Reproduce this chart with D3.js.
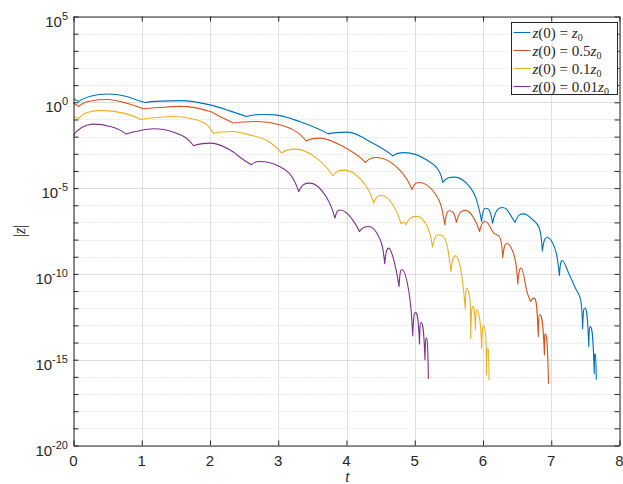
<!DOCTYPE html>
<html>
<head>
<meta charset="utf-8">
<script src="https://cdn.jsdelivr.net/npm/d3@7"></script>
<style>
body { margin: 0; background: #fff; }
svg { display: block; }
</style>
</head>
<body>
<svg id="svg"></svg>
<script>
// values, |z| given as log10 exponents

var blueT = [0, 0.08, 0.25, 0.49, 0.78, 0.92, 1.05, 1.27, 1.56, 2.0, 2.29, 2.53, 2.78, 2.95, 3.31, 3.73, 4.02, 4.34, 4.68, 4.85, 5.17, 5.36, 5.41, 5.58, 5.80, 5.92, 5.98, 6.04, 6.14, 6.29, 6.34, 6.43, 6.47, 6.60, 6.73, 6.82, 6.87, 6.94, 7.02, 7.12, 7.16, 7.26, 7.36, 7.43, 7.46, 7.49, 7.55, 7.57, 7.63, 7.64, 7.66];
var blueLog = [0.19, 0.05, 0.35, 0.48, 0.34, 0.15, -0.01, 0.07, 0.1, -0.15, -0.5, -0.83, -0.71, -0.73, -1.12, -1.84, -1.74, -2.28, -3.12, -2.93, -3.35, -4.03, -4.67, -4.36, -4.9, -5.87, -6.95, -6.17, -7.04, -6.13, -6.22, -6.75, -7.0, -6.5, -6.85, -7.28, -8.67, -7.88, -8.2, -10.09, -9.22, -10.0, -10.88, -11.5, -13.2, -11.99, -14.23, -13.07, -15.82, -14.66, -16.17];

var redT = [0, 0.08, 0.25, 0.49, 0.78, 1.02, 1.27, 1.56, 2.0, 2.19, 2.34, 2.68, 3.02, 3.41, 3.61, 3.95, 4.28, 4.44, 4.78, 4.96, 5.07, 5.31, 5.44, 5.51, 5.61, 5.74, 5.85, 5.95, 6.04, 6.16, 6.24, 6.29, 6.35, 6.46, 6.51, 6.56, 6.65, 6.70, 6.75, 6.81, 6.83, 6.90, 6.91, 6.96];
var redLog = [-0.05, -0.24, 0.08, 0.16, -0.05, -0.38, -0.3, -0.24, -0.54, -0.92, -1.21, -1.12, -1.31, -2.26, -2.09, -2.58, -3.51, -3.22, -3.95, -5.08, -4.67, -5.39, -7.14, -6.32, -7.0, -6.3, -6.65, -7.53, -6.95, -7.62, -7.82, -9.06, -8.23, -8.98, -10.6, -9.66, -11.12, -11.61, -11.41, -13.65, -12.38, -14.71, -13.49, -16.4];

var yellowT = [0, 0.08, 0.2, 0.41, 0.73, 0.98, 1.22, 1.46, 1.80, 2.05, 2.34, 2.58, 2.88, 3.05, 3.24, 3.56, 3.80, 3.97, 4.19, 4.40, 4.51, 4.68, 4.80, 4.84, 4.87, 5.03, 5.17, 5.26, 5.36, 5.53, 5.60, 5.64, 5.70, 5.74, 5.76, 5.81, 5.82, 5.85, 5.89, 5.91, 5.95, 5.98, 6.01, 6.04, 6.05, 6.07, 6.09];
var yellowLog = [-0.83, -0.94, -0.59, -0.47, -0.63, -1.0, -0.89, -0.83, -1.02, -1.82, -1.7, -1.9, -2.34, -2.96, -2.73, -3.25, -4.28, -3.95, -4.42, -5.87, -5.43, -5.97, -7.08, -7.0, -7.14, -6.65, -7.14, -8.44, -7.72, -9.86, -8.94, -9.2, -10.44, -12.05, -10.83, -11.51, -13.78, -11.9, -13.26, -12.09, -12.58, -14.33, -13.01, -13.65, -15.88, -14.33, -16.21];

var purpleT = [0, 0.12, 0.29, 0.54, 0.77, 0.98, 1.17, 1.51, 1.76, 2.02, 2.29, 2.49, 2.61, 2.73, 3.02, 3.30, 3.46, 3.70, 3.83, 3.91, 4.09, 4.19, 4.33, 4.48, 4.53, 4.56, 4.62, 4.70, 4.77, 4.81, 4.92, 4.97, 5.01, 5.07, 5.09, 5.15, 5.17, 5.20];
var purpleLog = [-1.93, -1.47, -1.27, -1.41, -1.85, -1.64, -1.54, -1.8, -2.53, -2.38, -2.77, -3.35, -3.64, -3.45, -3.74, -5.2, -4.71, -5.49, -6.75, -6.28, -6.85, -7.53, -7.24, -7.9, -8.5, -9.4, -8.5, -9.3, -10.74, -9.74, -11.2, -13.61, -12.25, -14.08, -12.83, -15.0, -13.74, -16.13];

var seriesNames = ["0", "0.5", "0.1", "0.01"];
var seriesColors = ["#0072BD", "#D95319", "#EDB120", "#7E2F8E"];
var xTicks = [0, 1, 2, 3, 4, 5, 6, 7, 8];
var yLabelExps = [5, 0, -5, -10, -15, -20];

//////////////////////////////////////////////////////////////////////////////

var width = 623, height = 484;
var padL = 73.5, padR = 619.5, padT = 16.5, padB = 445.5;

var x = d3.scaleLinear().domain([0, 8]).range([padL, padR]);
var y = d3.scaleLog().domain([1e-20, 1e5]).range([padB, padT]);

var svg = d3.select("#svg").attr("width", width).attr("height", height);

var decades = [];
for (var p = -20; p <= 5; ++p) decades.push(Math.pow(10, p));

// grid
var grid = svg.append("g");
grid.selectAll("line.minor")
    .data(decades.filter(function(d) { return Math.round(Math.log10(d)) % 5 !== 0; }))
    .enter().append("line")
    .attr("x1", padL).attr("x2", padR)
    .attr("y1", function(d) { return Math.round(y(d)) + 0.5; })
    .attr("y2", function(d) { return Math.round(y(d)) + 0.5; })
    .attr("stroke", "#d4d4d4").attr("stroke-dasharray", "1,2");
grid.selectAll("line.ymajor")
    .data(yLabelExps)
    .enter().append("line")
    .attr("x1", padL).attr("x2", padR)
    .attr("y1", function(d) { return Math.round(y(Math.pow(10, d))) + 0.5; })
    .attr("y2", function(d) { return Math.round(y(Math.pow(10, d))) + 0.5; })
    .attr("stroke", "#dedede");
grid.selectAll("line.xmajor")
    .data(xTicks)
    .enter().append("line")
    .attr("x1", function(d) { return Math.round(x(d)) + 0.5; })
    .attr("x2", function(d) { return Math.round(x(d)) + 0.5; })
    .attr("y1", padT).attr("y2", padB)
    .attr("stroke", "#dedede");

// curves: monotone pieces between the dips, with steep tangents at the dips
// so that each hump comes out round and each cusp stays sharp
function cuspPieces(ts, logs)
{
    var pts = [];
    for (var i=0; i<ts.length; ++i) {
        pts.push([x(ts[i]), y(Math.pow(10, logs[i]))]);
    }
    var segs = [], cur = [pts[0]];
    for (i=1; i<pts.length; ++i) {
        cur.push(pts[i]);
        if (i < pts.length-1 && pts[i][1] > pts[i-1][1] && pts[i][1] > pts[i+1][1]) {
            segs.push(cur);
            cur = [pts[i]];
        }
    }
    segs.push(cur);
    return segs;
}

function sign(v) { return v < 0 ? -1 : 1; }

function drawPiece(path, seg, first)
{
    var n = seg.length, i, s = [], m = [];
    for (i=0; i<n-1; ++i) {
        s.push((seg[i+1][1] - seg[i][1]) / (seg[i+1][0] - seg[i][0]));
    }
    for (i=1; i<n-1; ++i) {
        var h0 = seg[i][0] - seg[i-1][0], h1 = seg[i+1][0] - seg[i][0];
        var pp = (s[i-1] * h1 + s[i] * h0) / (h0 + h1);
        m[i] = (sign(s[i-1]) + sign(s[i])) *
            Math.min(Math.abs(s[i-1]), Math.abs(s[i]), 0.5 * Math.abs(pp)) || 0;
    }
    m[0] = 3 * s[0] - 2 * (m[1] || 0);
    if (Math.abs(m[0]) > 3 * Math.abs(s[0])) m[0] = 3 * s[0];
    m[n-1] = 3 * s[n-2] - 2 * (m[n-2] || 0);
    if (Math.abs(m[n-1]) > 3 * Math.abs(s[n-2])) m[n-1] = 3 * s[n-2];
    if (n === 2) { m[0] = s[0]; m[1] = s[0]; }
    if (first) path.moveTo(seg[0][0], seg[0][1]);
    for (i=0; i<n-1; ++i) {
        var h = (seg[i+1][0] - seg[i][0]) / 3;
        path.bezierCurveTo(seg[i][0] + h, seg[i][1] + m[i] * h,
                           seg[i+1][0] - h, seg[i+1][1] - m[i+1] * h,
                           seg[i+1][0], seg[i+1][1]);
    }
}

var allT = [blueT, redT, yellowT, purpleT];
var allLog = [blueLog, redLog, yellowLog, purpleLog];

for (var sIdx=0; sIdx<4; ++sIdx) {
    var segs = cuspPieces(allT[sIdx], allLog[sIdx]);
    var path = d3.path();
    for (var j=0; j<segs.length; ++j) drawPiece(path, segs[j], j === 0);
    svg.append("path")
        .attr("d", path.toString())
        .attr("fill", "none")
        .attr("stroke", seriesColors[sIdx])
        .attr("stroke-width", 1.1)
        .attr("stroke-linejoin", "round");
}

// axes with inward ticks on all four sides
var axisColor = "#262626";
svg.append("g").attr("transform", "translate(0," + padB + ")")
    .call(d3.axisBottom(x).tickValues(xTicks).tickSize(-5).tickSizeOuter(0).tickFormat(""));
svg.append("g").attr("transform", "translate(0," + padT + ")")
    .call(d3.axisTop(x).tickValues(xTicks).tickSize(-5).tickSizeOuter(0).tickFormat(""));
svg.append("g").attr("transform", "translate(" + padL + ",0)")
    .call(d3.axisLeft(y).tickValues(decades).tickSize(-5).tickSizeOuter(0).tickFormat(""));
svg.append("g").attr("transform", "translate(" + padR + ",0)")
    .call(d3.axisRight(y).tickValues(decades).tickSize(-5).tickSizeOuter(0).tickFormat(""));
svg.selectAll(".domain, .tick line").attr("stroke", axisColor);

// tick labels
svg.selectAll("text.xlab")
    .data(xTicks)
    .enter().append("text")
    .attr("x", function(d) { return x(d); })
    .attr("y", padB + 20.5)
    .attr("text-anchor", "middle")
    .attr("font-family", "Liberation Sans, Arial, sans-serif")
    .attr("font-size", 15)
    .attr("fill", axisColor)
    .text(function(d) { return d; });

var ylab = svg.selectAll("text.ylab")
    .data(yLabelExps)
    .enter().append("text")
    .attr("x", padL - 5.5)
    .attr("y", function(d) { return y(Math.pow(10, d)) + 10; })
    .attr("text-anchor", "end")
    .attr("font-family", "Liberation Sans, Arial, sans-serif")
    .attr("font-size", 15)
    .attr("fill", axisColor);
ylab.append("tspan").text("10");
ylab.append("tspan").attr("dy", -7).attr("font-size", 11).text(function(d) { return d; });

// axis titles
svg.append("text")
    .attr("x", x(4) + 1).attr("y", 482)
    .attr("text-anchor", "middle")
    .attr("font-family", "Liberation Serif, serif")
    .attr("font-style", "italic")
    .attr("font-size", 16)
    .attr("fill", axisColor)
    .text("t");
svg.append("text")
    .attr("transform", "translate(25," + (padT + padB) / 2 + ") rotate(-90)")
    .attr("text-anchor", "middle")
    .attr("font-family", "Liberation Serif, serif")
    .attr("font-size", 16)
    .attr("fill", axisColor)
    .html("|<tspan font-style='italic'>z</tspan>|");

// legend
var lg = svg.append("g").attr("transform", "translate(511.5,22.5)");
lg.append("rect").attr("width", 106).attr("height", 72)
    .attr("fill", "#fff").attr("stroke", axisColor);
for (var k=0; k<4; ++k) {
    var ry = 10 + k * 18;
    lg.append("line").attr("x1", 2).attr("x2", 19).attr("y1", ry).attr("y2", ry)
        .attr("stroke", seriesColors[k]).attr("stroke-width", 1.1);
    var lt = lg.append("text").attr("x", 21).attr("y", ry + 5)
        .attr("font-family", "Liberation Serif, serif")
        .attr("font-size", 15)
        .attr("fill", axisColor);
    lt.append("tspan").attr("font-style", "italic").text("z");
    lt.append("tspan").text("(0) = ");
    if (seriesNames[k] !== "0") lt.append("tspan").text(seriesNames[k]);
    lt.append("tspan").attr("font-style", "italic").text("z");
    lt.append("tspan").attr("font-size", 10).attr("dy", 3).text("0");
}
</script>
</body>
</html>
